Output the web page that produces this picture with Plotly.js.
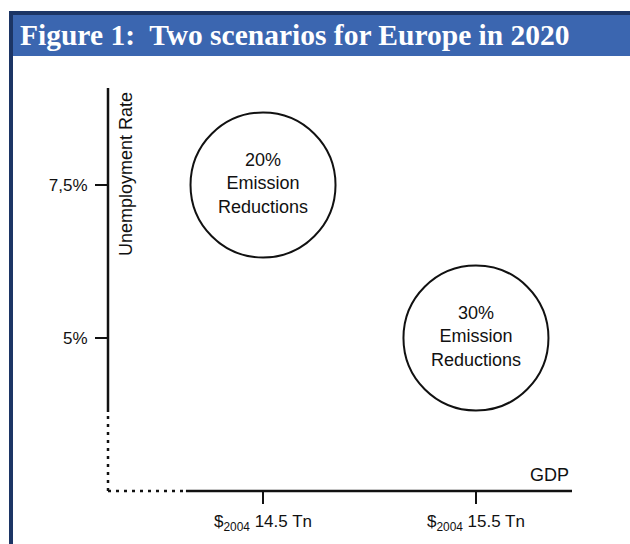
<!DOCTYPE html>
<html>
<head>
<meta charset="utf-8">
<script src="https://cdn.plot.ly/plotly-3.0.1.min.js"></script>
<style>html,body{margin:0;padding:0;background:#fff;}#chart{width:630px;height:544px;}</style>
</head>
<body>
<div id="chart"></div>
<script>
// Data
const scenarioLabels = ["20%<br>Emission<br>Reductions", "30%<br>Emission<br>Reductions"];
const gdpTn = [14.5, 15.5];
const unemploymentPct = [7.5, 5];
const xTickVals = [14.5, 15.5];
const xTickText = ["$<sub>2004</sub> 14.5 Tn", "$<sub>2004</sub> 15.5 Tn"];
const yTickVals = [5, 7.5];
const yTickText = ["5%", "7,5%"];

// layout geometry (pixels)
const W = 630, H = 544, L = 108, R = 572, T = 88, B = 491;
const px = p => (p - L) / (R - L);
const py = p => (B - p) / (B - T);

const FONT = "Liberation Sans, Arial, Helvetica, sans-serif";

const trace = {
  type: "scatter",
  mode: "markers+text",
  x: gdpTn,
  y: unemploymentPct,
  text: scenarioLabels,
  textposition: "middle center",
  textfont: {family: FONT, size: 18, color: "#111"},
  marker: {size: 145, color: "white", line: {color: "#111", width: 2}},
  hoverinfo: "skip",
  cliponaxis: false,
  showlegend: false
};

const layout = {
  width: W, height: H,
  margin: {l: L, r: W - R, t: T, b: H - B, pad: 0},
  paper_bgcolor: "white",
  plot_bgcolor: "rgba(0,0,0,0)",
  title: {
    text: "<b>Figure 1:  Two scenarios for Europe in 2020</b>",
    font: {family: "Liberation Serif, Times New Roman, serif", size: 29.5, color: "white"},
    xref: "container", yref: "container",
    x: 20 / W, xanchor: "left",
    y: 1 - 35 / H, yanchor: "middle"
  },
  xaxis: {
    range: [13.772, 15.951],
    showgrid: false, zeroline: false, showline: false,
    tickmode: "array", tickvals: xTickVals, ticktext: xTickText,
    ticks: "outside", ticklen: 12, tickwidth: 2, tickcolor: "#111",
    tickfont: {family: FONT, size: 17, color: "#111"},
    ticklabelstandoff: 3,
    fixedrange: true
  },
  yaxis: {
    range: [2.5, 9.085],
    showgrid: false, zeroline: false, showline: false,
    tickmode: "array", tickvals: yTickVals, ticktext: yTickText,
    ticks: "outside", ticklen: 12, tickwidth: 2, tickcolor: "#111",
    tickfont: {family: FONT, size: 17, color: "#111"},
    ticklabelstandoff: 4,
    fixedrange: true
  },
  shapes: [
    {type: "rect", xref: "paper", yref: "paper", x0: px(9), x1: px(13), y0: py(544), y1: py(11),
     fillcolor: "#1c3565", line: {width: 0}, layer: "below"},
    {type: "rect", xref: "paper", yref: "paper", x0: px(9), x1: px(630), y0: py(15), y1: py(11),
     fillcolor: "#1c3565", line: {width: 0}, layer: "below"},
    {type: "rect", xref: "paper", yref: "paper", x0: px(13), x1: px(630), y0: py(56), y1: py(15),
     fillcolor: "#3b66b0", line: {width: 0}, layer: "below"},
    {type: "line", xref: "paper", yref: "y", x0: 0, x1: 0, y0: 3.79, y1: 9.085,
     line: {color: "#111", width: 2.5}},
    {type: "line", xref: "paper", yref: "y", x0: 0, x1: 0, y0: 2.5, y1: 3.79,
     line: {color: "#111", width: 2.5, dash: "3px,5px"}},
    {type: "line", xref: "x", yref: "paper", x0: 14.138, x1: 15.951, y0: 0, y1: 0,
     line: {color: "#111", width: 2.5}},
    {type: "line", xref: "x", yref: "paper", x0: 13.772, x1: 14.138, y0: 0, y1: 0,
     line: {color: "#111", width: 2.5, dash: "3px,5px"}}
  ],
  annotations: [
    {text: "Unemployment Rate", textangle: -90, xref: "paper", yref: "paper",
     x: px(126), y: py(174), xanchor: "center", yanchor: "middle", showarrow: false,
     font: {family: FONT, size: 18, color: "#111"}},
    {text: "GDP", xref: "paper", yref: "paper", x: px(571), y: py(475),
     xanchor: "right", yanchor: "middle", showarrow: false,
     font: {family: FONT, size: 18, color: "#111"}}
  ]
};

Plotly.newPlot("chart", [trace], layout, {displayModeBar: false, staticPlot: true});
</script>
</body>
</html>
